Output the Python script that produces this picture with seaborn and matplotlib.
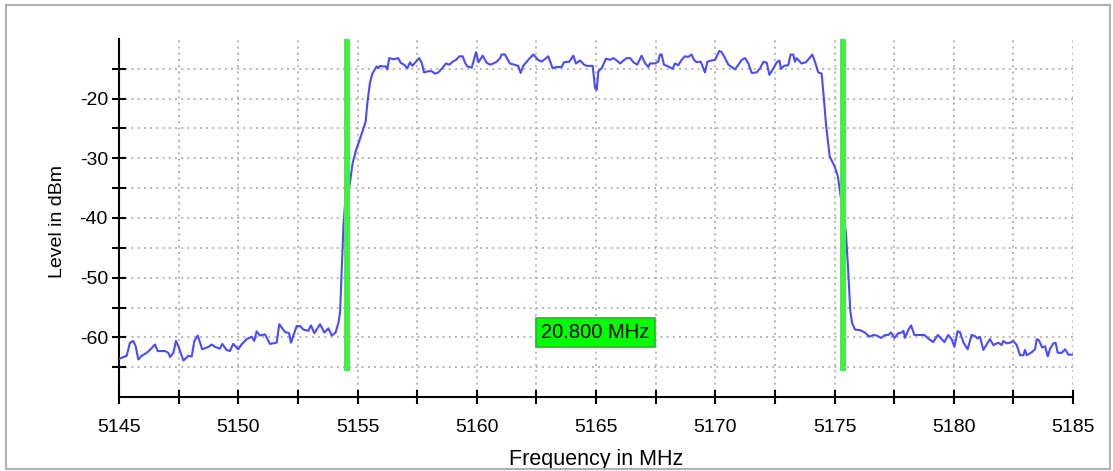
import numpy as np
import matplotlib
matplotlib.use("Agg")
import matplotlib.pyplot as plt
import seaborn as sns
from matplotlib.patches import Rectangle

# ---------------- data ----------------
freq_mhz = [
    5145.00, 5145.32, 5145.46, 5145.60, 5145.70, 5145.81, 5145.95, 5146.16, 5146.30, 5146.51,
    5146.62, 5146.93, 5147.07, 5147.14, 5147.28, 5147.39, 5147.49, 5147.70, 5147.91, 5148.05,
    5148.16, 5148.30, 5148.49, 5148.75, 5148.89, 5149.03, 5149.23, 5149.33, 5149.51, 5149.65,
    5149.79, 5150.00, 5150.14, 5150.35, 5150.56, 5150.67, 5150.77, 5150.91, 5151.12, 5151.33,
    5151.61, 5151.72, 5151.96, 5152.13, 5152.21, 5152.45, 5152.59, 5152.73, 5152.94, 5153.05,
    5153.19, 5153.43, 5153.61, 5153.78, 5153.92, 5154.08, 5154.20, 5154.27, 5154.33, 5154.41,
    5154.51, 5154.66, 5154.80, 5154.95, 5155.09, 5155.23, 5155.34, 5155.42, 5155.52, 5155.62,
    5155.73, 5155.80, 5155.87, 5155.94, 5156.08, 5156.19, 5156.25, 5156.33, 5156.53, 5156.71,
    5156.81, 5156.95, 5157.09, 5157.20, 5157.30, 5157.45, 5157.59, 5157.69, 5157.79, 5157.97,
    5158.11, 5158.25, 5158.39, 5158.53, 5158.71, 5158.85, 5158.99, 5159.13, 5159.27, 5159.41,
    5159.51, 5159.61, 5159.79, 5159.88, 5159.97, 5160.07, 5160.25, 5160.42, 5160.56, 5160.70,
    5160.84, 5160.98, 5161.04, 5161.18, 5161.39, 5161.56, 5161.74, 5161.84, 5161.95, 5162.16,
    5162.37, 5162.58, 5162.72, 5163.00, 5163.18, 5163.35, 5163.56, 5163.66, 5163.88, 5164.05,
    5164.16, 5164.33, 5164.50, 5164.61, 5164.86, 5164.96, 5165.03, 5165.10, 5165.24, 5165.42,
    5165.59, 5165.73, 5165.87, 5166.01, 5166.15, 5166.29, 5166.43, 5166.57, 5166.73, 5166.91,
    5167.05, 5167.19, 5167.26, 5167.47, 5167.61, 5167.68, 5167.75, 5167.85, 5168.03, 5168.21,
    5168.31, 5168.45, 5168.59, 5168.73, 5168.87, 5169.01, 5169.11, 5169.22, 5169.39, 5169.57,
    5169.67, 5169.85, 5169.99, 5170.17, 5170.27, 5170.41, 5170.55, 5170.83, 5170.97, 5171.11,
    5171.25, 5171.39, 5171.53, 5171.74, 5171.88, 5172.02, 5172.16, 5172.27, 5172.44, 5172.58,
    5172.69, 5172.76, 5172.88, 5173.06, 5173.16, 5173.27, 5173.34, 5173.41, 5173.62, 5173.80,
    5173.95, 5174.07, 5174.18, 5174.32, 5174.46, 5174.56, 5174.65, 5174.80, 5175.00, 5175.14,
    5175.26, 5175.48, 5175.58, 5175.66, 5175.74, 5175.86, 5176.07, 5176.28, 5176.46, 5176.63,
    5176.77, 5176.95, 5177.12, 5177.26, 5177.37, 5177.51, 5177.68, 5177.82, 5177.89, 5177.96,
    5178.10, 5178.21, 5178.35, 5178.58, 5178.77, 5178.93, 5179.14, 5179.33, 5179.47, 5179.61,
    5179.77, 5179.91, 5180.03, 5180.16, 5180.26, 5180.40, 5180.58, 5180.75, 5180.89, 5181.00,
    5181.10, 5181.24, 5181.38, 5181.52, 5181.66, 5181.87, 5182.01, 5182.08, 5182.22, 5182.36,
    5182.50, 5182.64, 5182.78, 5182.92, 5182.99, 5183.06, 5183.27, 5183.41, 5183.48, 5183.57,
    5183.71, 5183.83, 5183.94, 5184.04, 5184.18, 5184.27, 5184.36, 5184.53, 5184.67, 5184.81,
    5185.00,
]
level_dbm = [
    -63.6, -63.1, -60.9, -60.6, -61.5, -63.7, -63.1, -62.6, -62.1, -61.2,
    -62.3, -62.3, -62.6, -63.3, -62.6, -60.6, -61.5, -63.9, -63.1, -63.2,
    -60.6, -59.7, -62.0, -61.6, -61.2, -61.6, -61.9, -61.1, -62.1, -62.3,
    -61.1, -62.0, -61.2, -60.3, -59.9, -60.6, -59.0, -59.7, -59.5, -61.1,
    -60.9, -57.8, -59.1, -59.3, -60.9, -58.1, -58.1, -58.7, -58.9, -58.0,
    -59.3, -57.8, -59.2, -58.5, -59.7, -59.2, -57.6, -55.8, -49.7, -41.4,
    -35.7, -34.7, -30.7, -28.5, -26.9, -25.2, -23.9, -20.5, -17.4, -15.8,
    -15.1, -14.6, -14.9, -14.5, -14.6, -14.6, -15.1, -13.2, -13.4, -13.2,
    -14.0, -14.3, -14.9, -13.9, -14.5, -13.8, -13.2, -14.0, -15.6, -15.4,
    -15.4, -15.8, -15.6, -15.0, -14.1, -14.3, -13.8, -13.5, -12.9, -12.9,
    -14.0, -14.6, -14.8, -13.5, -12.2, -13.9, -12.8, -14.0, -14.3, -14.1,
    -13.8, -13.2, -12.6, -12.6, -14.1, -14.3, -14.5, -15.7, -14.5, -13.5,
    -12.6, -13.5, -13.8, -12.9, -14.9, -14.7, -14.7, -13.9, -13.8, -12.8,
    -14.1, -13.6, -14.3, -14.5, -14.5, -18.2, -18.5, -15.4, -14.9, -13.3,
    -13.5, -13.2, -13.6, -14.1, -13.6, -13.2, -13.2, -13.9, -14.3, -12.8,
    -14.0, -14.7, -14.1, -14.1, -13.8, -12.6, -12.6, -14.3, -14.6, -15.0,
    -14.1, -14.4, -13.5, -12.9, -13.0, -12.6, -13.5, -13.9, -13.8, -15.6,
    -13.8, -13.6, -13.5, -12.0, -12.2, -13.2, -14.3, -15.1, -14.3, -13.5,
    -13.2, -14.1, -15.7, -15.6, -14.9, -13.8, -14.0, -16.0, -14.9, -13.9,
    -13.6, -15.0, -14.5, -14.4, -12.6, -12.6, -13.8, -13.2, -14.1, -13.9,
    -13.2, -12.6, -13.8, -15.6, -15.8, -20.2, -24.6, -29.7, -31.3, -33.0,
    -36.4, -42.5, -49.2, -55.5, -57.6, -58.7, -58.8, -59.2, -59.9, -59.6,
    -59.7, -60.1, -59.6, -59.6, -59.2, -60.1, -59.3, -59.2, -58.9, -60.1,
    -58.7, -58.0, -59.6, -59.6, -59.6, -60.2, -60.8, -59.6, -60.2, -60.8,
    -59.6, -60.3, -61.6, -59.0, -59.1, -60.8, -62.0, -59.6, -59.8, -60.2,
    -59.9, -62.1, -61.2, -60.3, -61.3, -60.9, -61.3, -60.6, -61.0, -60.9,
    -60.6, -61.3, -63.0, -63.0, -62.1, -63.0, -62.5, -62.0, -60.3, -60.5,
    -61.7, -61.5, -63.2, -61.9, -61.0, -60.9, -62.6, -62.6, -62.0, -62.9,
    -62.9,
]
marker_mhz = [5154.57, 5175.37]
marker_bottom_dbm = -65.7
bandwidth_label_dbm = -59.2

x_major = [5145, 5150, 5155, 5160, 5165, 5170, 5175, 5180, 5185]
x_minor = [5147.5, 5152.5, 5157.5, 5162.5, 5167.5, 5172.5, 5177.5, 5182.5]
y_major = [-60, -50, -40, -30, -20]
y_minor = [-65, -55, -45, -35, -25, -15]
x_range = (5145, 5185)
y_range = (-70, -10)

# ---------------- style ----------------
sns.set_theme(style="white")
plt.rcParams['font.family'] = ['Liberation Sans', 'DejaVu Sans']

W, H = 1113, 471
fig = plt.figure(figsize=(W / 100, H / 100), dpi=100)
fig.patch.set_facecolor("white")
ax = fig.add_axes([119 / W, 74 / H, 954 / W, 358 / H])
ax.set_facecolor("white")

sns.lineplot(x=freq_mhz, y=level_dbm, ax=ax, color="#4a4aff", lw=1.5,
             estimator=None, sort=False, legend=False, zorder=3)

ax.vlines(marker_mhz, marker_bottom_dbm, y_range[1], colors="#44ee44",
          lw=4.3, zorder=4)

bw = marker_mhz[1] - marker_mhz[0]
ax.text(np.mean(marker_mhz), bandwidth_label_dbm, f"{bw:.3f} MHz",
        ha="center", va="center", fontsize=14.5, color="black", zorder=6,
        bbox=dict(boxstyle="square,pad=0.27", fc="#00ff00", ec="#30b030", lw=1.2))

ax.set_xlim(*x_range)
ax.set_ylim(*y_range)
ax.set_xticks(x_major)
ax.set_xticks(x_minor, minor=True)
ax.set_yticks(y_major)
ax.set_yticks(y_minor, minor=True)
ax.set_xticklabels([str(v) for v in x_major])
ax.set_yticklabels([str(v) for v in y_major])

ax.tick_params(which="both", direction="inout", length=10, width=1.5,
               color="black", labelsize=14, labelcolor="black")
ax.tick_params(axis="x", which="both", pad=11, bottom=True)
ax.tick_params(axis="y", which="both", pad=3, left=True)

grid_kw = dict(color="#b4b4b4", linestyle=(0, (1, 2.2)), lw=1.4)
ax.grid(True, which="both", axis="both", **grid_kw)
ax.set_axisbelow(True)

for s in ["top", "right"]:
    ax.spines[s].set_visible(False)
for s in ["left", "bottom"]:
    ax.spines[s].set_visible(True)
    ax.spines[s].set_color("black")
    ax.spines[s].set_linewidth(1.5)

ax.set_xlabel("Frequency in MHz", fontsize=15.5, color="black")
ax.set_ylabel("Level in dBm", fontsize=14, color="black")
ax.xaxis.set_label_coords(0.5, (397 - 460) / 358)
ax.xaxis.label.set_va("center")
ax.yaxis.set_label_coords((58 - 119) / 954, 0.49)
ax.yaxis.label.set_va("center")

fig.patches.append(Rectangle((6 / W, 2 / H), 1104 / W, 464 / H,
                             transform=fig.transFigure, fill=False,
                             ec="#b0b0b0", lw=1.5, zorder=0))

fig.savefig("out.png", dpi=100)
